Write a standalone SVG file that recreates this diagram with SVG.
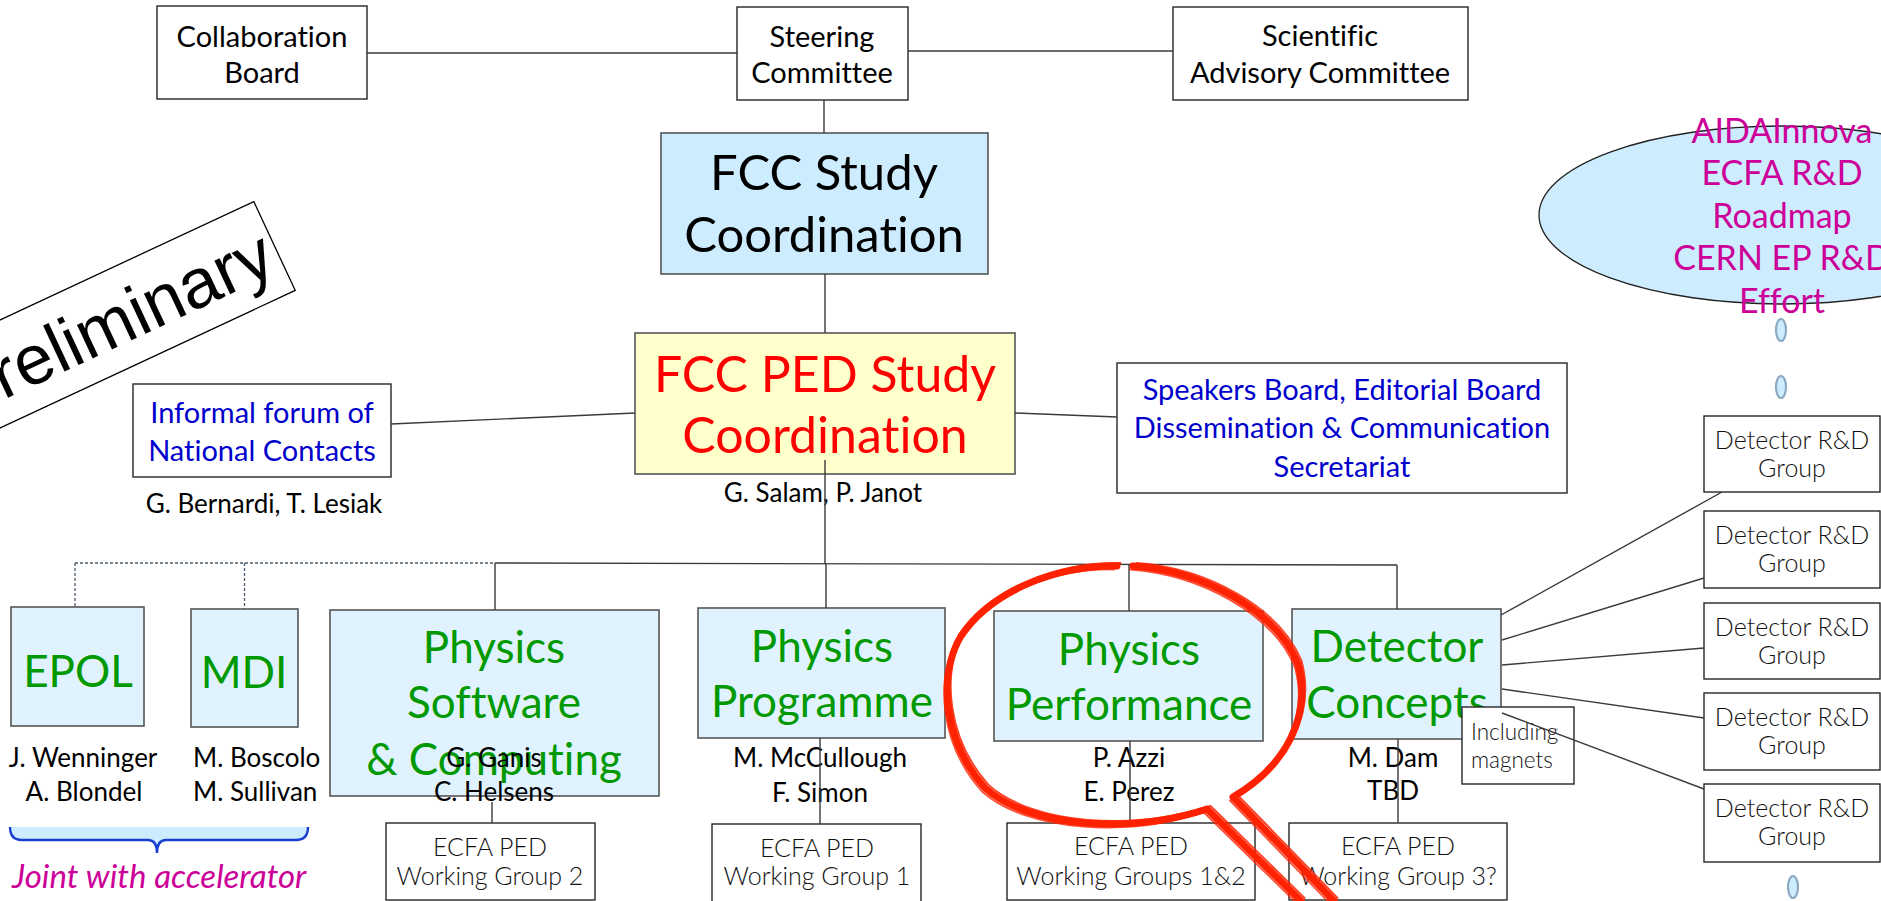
<svg xmlns="http://www.w3.org/2000/svg" width="1881" height="901" viewBox="0 0 1881 901">
  <defs>
    <style>
      text { font-family: Lato, "Liberation Sans", sans-serif; text-anchor: middle; font-variant-ligatures: none; }
      .box { fill: #ffffff; stroke: #262626; stroke-width: 1.4; }
      .boxb { fill: #dff2fe; stroke: #555555; stroke-width: 1.6; }
      .boxc { fill: #cdedff; stroke: #555555; stroke-width: 1.6; }
      .boxy { fill: #ffffcc; stroke: #555555; stroke-width: 1.6; }
      .t29 { font-size: 29px; fill: #000; }
      .blu { font-size: 29px; fill: #0000cc; }
      .big { font-size: 49px; fill: #000; }
      .red { font-size: 50px; fill: #ff0000; }
      .grn { font-size: 44px; fill: #009900; }
      .nm { font-size: 26px; fill: #000; }
      .lt { font-size: 25px; font-weight: 300; fill: #111; }
      .inc { font-size: 22.5px; font-weight: 300; fill: #111; text-anchor: start; }
      .mag { font-size: 34px; fill: #cc0099; }
      .jo { font-size: 33px; font-style: italic; fill: #cc0099; text-anchor: start; }
      .ln { stroke: #3a3a3a; stroke-width: 1.4; fill: none; }
      .dsh { stroke: #4a5a6a; stroke-width: 1.3; fill: none; stroke-dasharray: 3 2; }
      .dot { fill: #cdedff; stroke: #8eaac2; stroke-width: 2.2; }
      .pen { fill: none; stroke: #ff2200; stroke-linecap: round; stroke-linejoin: round; }
    </style>
    <!-- loupe outline, reused for the brush strands -->
    <path id="loopL" d="M1117,566 C1058,565 992,590 961,636 C937,676 944,742 985,788 C1030,828 1130,834 1207,809 L1301,901"/>
    <path id="loopR" d="M1133,566 C1203,571 1276,610 1298,664 C1312,716 1286,766 1233,797 L1334,901"/>
  </defs>

  <!-- top row -->
  <g id="collaboration-board">
    <rect class="box" x="157" y="6" width="210" height="93"/>
    <text class="t29" x="262" y="47">Collaboration</text>
    <text class="t29" x="262" y="83">Board</text>
  </g>
  <g id="steering-committee">
    <rect class="box" x="737" y="7" width="171" height="93"/>
    <text class="t29" x="822" y="47">Steering</text>
    <text class="t29" x="822" y="83">Committee</text>
  </g>
  <g id="scientific-advisory">
    <rect class="box" x="1173" y="7" width="295" height="93"/>
    <text class="t29" x="1320" y="46">Scientific</text>
    <text class="t29" x="1320" y="83">Advisory Committee</text>
  </g>

  <g id="fcc-study-coordination">
    <rect class="boxc" x="661" y="133" width="327" height="141"/>
    <text class="big" x="824" y="190">FCC Study</text>
    <text class="big" x="824" y="252">Coordination</text>
  </g>

  <g id="fcc-ped-coordination">
    <rect class="boxy" x="635" y="333" width="380" height="141"/>
    <text class="red" x="825" y="392">FCC PED Study</text>
    <text class="red" x="825" y="453">Coordination</text>
    <text class="nm" x="823" y="502">G. Salam, P. Janot</text>
  </g>

  <g id="national-contacts">
    <rect class="box" x="133" y="384" width="258" height="93"/>
    <text class="blu" x="262" y="423">Informal forum of</text>
    <text class="blu" x="262" y="461">National Contacts</text>
    <text class="nm" x="264" y="513">G. Bernardi, T. Lesiak</text>
  </g>

  <g id="speakers-board">
    <rect class="box" x="1117" y="363" width="450" height="130"/>
    <text class="blu" x="1342" y="400">Speakers Board, Editorial Board</text>
    <text class="blu" x="1342" y="438">Dissemination &amp; Communication</text>
    <text class="blu" x="1342" y="477">Secretariat</text>
  </g>

  <g id="rd-initiatives">
    <ellipse cx="1782" cy="215" rx="243" ry="89" fill="#cdedff" stroke="#222" stroke-width="1.3"/>
    <text class="mag" x="1782" y="143">AIDAInnova</text>
    <text class="mag" x="1782" y="185">ECFA R&amp;D</text>
    <text class="mag" x="1782" y="228">Roadmap</text>
    <text class="mag" x="1782" y="270">CERN EP R&amp;D</text>
    <text class="mag" x="1782" y="313">Effort</text>
    <ellipse class="dot" cx="1781" cy="330" rx="5" ry="11"/>
    <ellipse class="dot" cx="1781" cy="387" rx="5" ry="11"/>
  </g>

  <!-- second row -->
  <g id="epol">
    <rect class="boxb" x="11" y="607" width="133" height="119"/>
    <text class="grn" x="78" y="687">EPOL</text>
    <text class="nm" x="83" y="767">J. Wenninger</text>
    <text class="nm" x="84" y="801">A. Blondel</text>
  </g>
  <g id="mdi">
    <rect class="boxb" x="191" y="609" width="107" height="118"/>
    <text class="grn" x="244" y="688">MDI</text>
    <text class="nm" x="193" y="767" style="text-anchor:start">M. Boscolo</text>
    <text class="nm" x="193" y="801" style="text-anchor:start">M. Sullivan</text>
  </g>
  <g id="joint-with-accelerator">
    <path d="M10,827 Q10,840 22,840 L148,840 Q157,840 157,853 Q157,840 166,840 L296,840 Q308,840 308,827 Z" fill="#cdedff" stroke="none"/>
    <path d="M10,827 Q10,840 22,840 L148,840 Q157,840 157,853 Q157,840 166,840 L296,840 Q308,840 308,827" fill="none" stroke="#1a3fd0" stroke-width="2.4"/>
    <text class="jo" x="12" y="888">Joint with accelerator</text>
  </g>

  <g id="physics-software">
    <rect class="boxb" x="330" y="610" width="329" height="186"/>
    <text class="grn" x="494" y="663">Physics</text>
    <text class="grn" x="494" y="718">Software</text>
    <text class="grn" x="494" y="775">&amp; Computing</text>
    <text class="nm" x="494" y="767">G. Ganis</text>
    <text class="nm" x="494" y="801">C. Helsens</text>
  </g>
  <g id="wg2">
    <rect class="box" x="386" y="823" width="209" height="77"/>
    <text class="lt" x="490" y="856">ECFA PED</text>
    <text class="lt" x="490" y="885">Working Group 2</text>
  </g>

  <g id="physics-programme">
    <rect class="boxb" x="698" y="608" width="247" height="130"/>
    <text class="grn" x="822" y="662">Physics</text>
    <text class="grn" x="822" y="717">Programme</text>
    <text class="nm" x="820" y="767">M. McCullough</text>
    <text class="nm" x="820" y="802">F. Simon</text>
  </g>
  <g id="wg1">
    <rect class="box" x="712" y="824" width="209" height="80"/>
    <text class="lt" x="817" y="857">ECFA PED</text>
    <text class="lt" x="817" y="885">Working Group 1</text>
  </g>

  <g id="physics-performance">
    <rect class="boxb" x="994" y="611" width="269" height="130"/>
    <text class="grn" x="1129" y="665">Physics</text>
    <text class="grn" x="1129" y="720">Performance</text>
    <text class="nm" x="1129" y="767">P. Azzi</text>
    <text class="nm" x="1129" y="801">E. Perez</text>
  </g>
  <g id="wg12">
    <rect class="box" x="1007" y="823" width="248" height="77"/>
    <text class="lt" x="1131" y="855">ECFA PED</text>
    <text class="lt" x="1131" y="885">Working Groups 1&amp;2</text>
  </g>

  <g id="detector-concepts">
    <rect class="boxb" x="1292" y="609" width="209" height="130"/>
    <text class="grn" x="1397" y="662">Detector</text>
    <text class="grn" x="1397" y="718">Concepts</text>
    <text class="nm" x="1393" y="767">M. Dam</text>
    <text class="nm" x="1393" y="800">TBD</text>
  </g>
  <g id="including-magnets">
    <rect class="box" x="1462" y="707" width="112" height="77"/>
    <text class="inc" x="1471" y="740">Including</text>
    <text class="inc" x="1471" y="768">magnets</text>
  </g>
  <g id="wg3">
    <rect class="box" x="1289" y="823" width="218" height="77"/>
    <text class="lt" x="1398" y="855">ECFA PED</text>
    <text class="lt" x="1398" y="885">Working Group 3?</text>
  </g>

  <g id="detector-rd-groups">
    <rect class="box" x="1704" y="416" width="176" height="76"/>
    <text class="lt" x="1792" y="449">Detector R&amp;D</text>
    <text class="lt" x="1792" y="477">Group</text>
    <rect class="box" x="1704" y="511" width="176" height="77"/>
    <text class="lt" x="1792" y="544">Detector R&amp;D</text>
    <text class="lt" x="1792" y="572">Group</text>
    <rect class="box" x="1704" y="603" width="176" height="76"/>
    <text class="lt" x="1792" y="636">Detector R&amp;D</text>
    <text class="lt" x="1792" y="664">Group</text>
    <rect class="box" x="1704" y="693" width="176" height="77"/>
    <text class="lt" x="1792" y="726">Detector R&amp;D</text>
    <text class="lt" x="1792" y="754">Group</text>
    <rect class="box" x="1704" y="784" width="176" height="78"/>
    <text class="lt" x="1792" y="817">Detector R&amp;D</text>
    <text class="lt" x="1792" y="845">Group</text>
    <ellipse class="dot" cx="1793" cy="887" rx="5" ry="11"/>
  </g>

  <!-- connectors -->
  <g id="connectors">
    <line class="ln" x1="367" y1="53" x2="737" y2="53"/>
    <line class="ln" x1="908" y1="51" x2="1173" y2="51"/>
    <line class="ln" x1="824" y1="100" x2="824" y2="133"/>
    <line class="ln" x1="825" y1="274" x2="825" y2="333"/>
    <line class="ln" x1="391" y1="424" x2="635" y2="413"/>
    <line class="ln" x1="1015" y1="413" x2="1117" y2="417"/>
    <line class="ln" x1="825" y1="460" x2="825" y2="564"/>
    <line class="ln" x1="495" y1="563" x2="1397" y2="565"/>
    <line class="dsh" x1="75" y1="563" x2="495" y2="563"/>
    <line class="dsh" x1="75" y1="563" x2="75" y2="607"/>
    <line class="dsh" x1="244.5" y1="563" x2="244.5" y2="609"/>
    <line class="ln" x1="495" y1="563" x2="495" y2="610"/>
    <line class="ln" x1="826" y1="564" x2="826" y2="608"/>
    <line class="ln" x1="1129" y1="564" x2="1129" y2="611"/>
    <line class="ln" x1="1397" y1="565" x2="1397" y2="609"/>
    <line class="ln" x1="492" y1="802" x2="492" y2="823"/>
    <line class="ln" x1="820" y1="738" x2="820" y2="824"/>
    <line class="ln" x1="1130" y1="741" x2="1130" y2="823"/>
    <line class="ln" x1="1398" y1="739" x2="1398" y2="823"/>
    <line class="ln" x1="1501" y1="615" x2="1722" y2="492"/>
    <line class="ln" x1="1502" y1="640" x2="1704" y2="578"/>
    <line class="ln" x1="1502" y1="665" x2="1704" y2="648"/>
    <line class="ln" x1="1502" y1="689" x2="1704" y2="718"/>
    <line class="ln" x1="1502" y1="713" x2="1704" y2="789"/>
  </g>

  <!-- hand-drawn loupe round Physics Performance -->
  <g id="loupe">
    <use href="#loopL" class="pen" stroke-width="7"/>
    <use href="#loopR" class="pen" stroke-width="7"/>
    <use href="#loopL" class="pen" stroke-width="2" opacity="0.85" transform="translate(3.5,-3)"/>
    <use href="#loopR" class="pen" stroke-width="2" opacity="0.85" transform="translate(3.5,-3)"/>
    <use href="#loopL" class="pen" stroke-width="1.8" opacity="0.8" transform="translate(-3,3.5)"/>
    <use href="#loopR" class="pen" stroke-width="1.8" opacity="0.8" transform="translate(-3,3.5)"/>
  </g>

  <!-- rotated stamp, partly off the left edge -->
  <g id="preliminary-stamp" transform="translate(274.5,246) rotate(-25)">
    <rect x="-520" y="-49" width="520" height="98" fill="#ffffff" stroke="#000" stroke-width="1.3"/>
    <text x="-7" y="25" style="font-family:'Liberation Sans',Arial,sans-serif;font-size:70px;text-anchor:end;fill:#000">Preliminary</text>
  </g>
</svg>
